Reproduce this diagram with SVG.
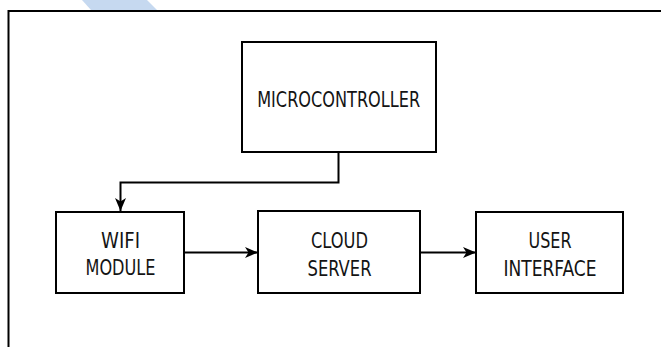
<svg xmlns="http://www.w3.org/2000/svg" width="661" height="347" viewBox="0 0 661 347">
  <style>
    .box { fill: #ffffff; stroke: #000000; stroke-width: 2; }
    .frame { fill: none; stroke: #000000; stroke-width: 2; }
    .wire { fill: none; stroke: #000000; stroke-width: 2; }
    .label { font-family: "DejaVu Sans Condensed", "DejaVu Sans", "Liberation Sans", sans-serif; font-stretch: condensed; font-size: 21px; fill: #141414; text-anchor: middle; }
  </style>
  <defs>
    <marker id="arrow" markerUnits="userSpaceOnUse" markerWidth="13" markerHeight="12" viewBox="0 0 13 12" refX="13" refY="6" orient="auto">
      <path d="M0,0.5 L13,6 L0,11.5 L3.5,6 Z" fill="#000000"/>
    </marker>
  </defs>

  <rect x="0" y="0" width="661" height="347" fill="#ffffff"/>

  <!-- light-blue band at the top edge -->
  <polygon points="82,0 147,0 157,10 91,10" fill="#c6d9f0"/>

  <!-- page frame -->
  <path class="frame" d="M8.5,347 L8.5,11 L661,11"/>

  <g id="connectors">
    <path class="wire" d="M338.5,152 L338.5,182.5 L120.5,182.5 L120.5,211" marker-end="url(#arrow)"/>
    <path class="wire" d="M184,252.5 L258,252.5" marker-end="url(#arrow)"/>
    <path class="wire" d="M420,252.5 L476,252.5" marker-end="url(#arrow)"/>
  </g>

  <g id="microcontroller">
    <rect class="box" x="242" y="42" width="194" height="110"/>
    <text class="label" x="338.7" y="106.5" textLength="163" lengthAdjust="spacingAndGlyphs">MICROCONTROLLER</text>
  </g>

  <g id="wifi-module">
    <rect class="box" x="56" y="212" width="128" height="81"/>
    <text class="label" x="120.5" y="248.3" textLength="39" lengthAdjust="spacingAndGlyphs">WIFI</text>
    <text class="label" x="120.5" y="275" textLength="70" lengthAdjust="spacingAndGlyphs">MODULE</text>
  </g>

  <g id="cloud-server">
    <rect class="box" x="258" y="211" width="162" height="82"/>
    <text class="label" x="339.5" y="248.3" textLength="57" lengthAdjust="spacingAndGlyphs">CLOUD</text>
    <text class="label" x="339.5" y="276" textLength="64" lengthAdjust="spacingAndGlyphs">SERVER</text>
  </g>

  <g id="user-interface">
    <rect class="box" x="476" y="212" width="147" height="81"/>
    <text class="label" x="550" y="247.7" textLength="43" lengthAdjust="spacingAndGlyphs">USER</text>
    <text class="label" x="550" y="276" textLength="93" lengthAdjust="spacingAndGlyphs">INTERFACE</text>
  </g>
</svg>
